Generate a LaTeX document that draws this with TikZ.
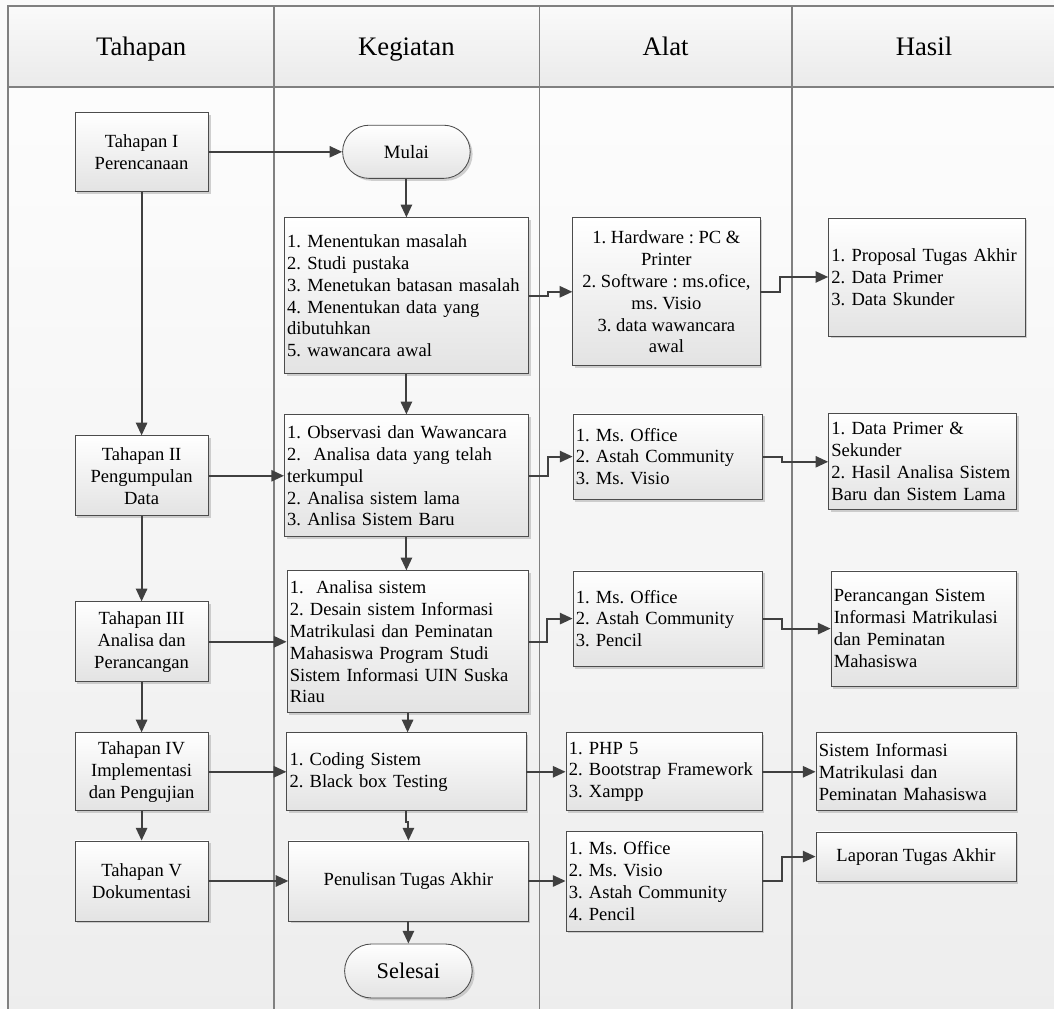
\documentclass[tikz,border=0pt]{standalone}
\usepackage{fontspec}
\setmainfont{Liberation Serif}
\frenchspacing
\usetikzlibrary{arrows.meta, shapes.misc, shadows}

\begin{document}
\begin{tikzpicture} [scale = 1,
  lane/.style = {draw = black!50, line width = 1.1pt},
  head/.style = {anchor = base, font = \fontsize{19}{22}\selectfont},
  box/.style = {draw = black!70, line width = 0.6pt, top color = white, bottom color = black!11,
    drop shadow = {shadow xshift = 0.06cm, shadow yshift = -0.06cm, fill = black!30, opacity = 0.6},
    font = \fontsize{13.2}{15.6}\selectfont, inner xsep = 0.07cm, inner ysep = 0.05cm},
  listbox/.style = {box, align = left},
  textbox/.style = {box, align = center},
  terminal/.style = {box, rounded rectangle, align = center},
  flow/.style = {draw = black!75, line width = 1.3pt, -{Triangle[length = 9pt, width = 8pt]}}]
\useasboundingbox (0, 0) rectangle (26.35, 25.225);
\fill[black!2] (0, 0) rectangle (26.35, 25.225);
\shade[top color = black!1, bottom color = black!7] (0.2, -0.2) rectangle (26.45, 23.05);
\shade[top color = black!2, bottom color = black!8] (0.2, 23.05) rectangle (26.45, 25.075);
\draw[lane] (0.2, -0.2) -- (0.2, 25.075) -- (26.45, 25.075);
\draw[lane] (0.2, 23.05) -- (26.45, 23.05);
\draw[lane] (6.85, -0.2) -- (6.85, 25.075);
\draw[lane] (13.49, -0.2) -- (13.49, 25.075);
\draw[lane] (19.8, -0.2) -- (19.8, 25.075);
\node[head] (htahap) at (3.53, 23.83){Tahapan};
\node[head] (hkegiatan) at (10.16, 23.83){Kegiatan};
\node[head] (halat) at (16.64, 23.83){Alat};
\node[head] (hhasil) at (23.1, 23.83){Hasil};
\node[textbox, minimum width = 3.33cm, minimum height = 1.98cm] (t1) at (3.54, 21.43){Tahapan I\\Perencanaan};
\node[textbox, minimum width = 3.33cm, minimum height = 2.0cm] (t2) at (3.54, 13.33){Tahapan II\\Pengumpulan\\Data};
\node[textbox, minimum width = 3.33cm, minimum height = 2.0cm] (t3) at (3.54, 9.18){Tahapan III\\Analisa dan\\Perancangan};
\node[textbox, minimum width = 3.33cm, minimum height = 1.95cm] (t4) at (3.54, 5.93){Tahapan IV\\Implementasi\\dan Pengujian};
\node[textbox, minimum width = 3.33cm, minimum height = 2.0cm] (t5) at (3.54, 3.2){Tahapan V\\Dokumentasi};
\node[terminal, minimum width = 3.33cm, minimum height = 1.33cm, font = \fontsize{13.4}{16}\selectfont] (mulai) at (10.16, 21.43){Mulai};
\node[listbox, text width = 5.96cm, minimum height = 3.9cm] (k1) at (10.16, 17.83){1. Menentukan masalah\\2. Studi pustaka\\3. Menetukan batasan masalah\\4. Menentukan data yang\\dibutuhkan\\5. wawancara awal};
\node[listbox, text width = 5.96cm, minimum height = 3.05cm] (k2) at (10.16, 13.33){1. Observasi dan Wawancara\\2.~ Analisa data yang telah\\terkumpul\\2. Analisa sistem lama\\3. Anlisa Sistem Baru};
\node[listbox, text width = 5.89cm, minimum height = 3.55cm] (k3) at (10.19, 9.18){1.~ Analisa sistem\\2. Desain sistem Informasi\\Matrikulasi dan Peminatan\\Mahasiswa Program Studi\\Sistem Informasi UIN Suska\\Riau};
\node[listbox, text width = 5.84cm, minimum height = 1.95cm] (k4) at (10.16, 5.93){1. Coding Sistem\\2. Black box Testing};
\node[textbox, minimum width = 5.98cm, minimum height = 2.0cm] (k5) at (10.21, 3.2){Penulisan Tugas Akhir};
\node[terminal, minimum width = 3.33cm, minimum height = 1.35cm, font = \fontsize{15.9}{18}\selectfont] (selesai) at (10.21, 0.95){Selesai};
\node[textbox, minimum width = 4.68cm, minimum height = 3.7cm] (a1) at (16.66, 17.93){1. Hardware : PC \&\\Printer\\2. Software : ms.ofice,\\ms. Visio\\3. data wawancara\\awal};
\node[listbox, text width = 4.59cm, minimum height = 2.13cm] (a2) at (16.69, 13.81){1. Ms. Office\\2. Astah Community\\3. Ms. Visio};
\node[listbox, text width = 4.59cm, minimum height = 2.38cm] (a3) at (16.69, 9.76){1. Ms. Office\\2. Astah Community\\3. Pencil};
\node[listbox, text width = 4.76cm, minimum height = 1.95cm] (a4) at (16.6, 5.93){1. PHP 5\\2. Bootstrap Framework\\3. Xampp};
\node[listbox, text width = 4.76cm, minimum height = 2.48cm] (a5) at (16.6, 3.19){1. Ms. Office\\2. Ms. Visio\\3. Astah Community\\4. Pencil};
\node[listbox, text width = 4.77cm, minimum height = 2.95cm] (h1) at (23.17, 18.3){1. Proposal Tugas Akhir\\2. Data Primer\\3. Data Skunder};
\node[listbox, text width = 4.55cm, minimum height = 2.4cm] (h2) at (23.06, 13.68){1. Data Primer \&\\Sekunder\\2. Hasil Analisa Sistem\\Baru dan Sistem Lama};
\node[listbox, text width = 4.49cm, minimum height = 2.88cm] (h3) at (23.09, 9.51){Perancangan Sistem\\Informasi Matrikulasi\\dan Peminatan\\Mahasiswa};
\node[listbox, text width = 4.86cm, minimum height = 1.95cm] (h4) at (22.9, 5.93){Sistem Informasi\\Matrikulasi dan\\Peminatan Mahasiswa};
\node[textbox, minimum width = 5.0cm, minimum height = 1.23cm] (h5) at (22.9, 3.81){Laporan Tugas Akhir};
\draw[flow] (t1.east) -- (mulai.west);
\draw[flow] (t1.south) -- (t2.north);
\draw[flow] (t2.south) -- (t3.north);
\draw[flow] (t3.south) -- (t4.north);
\draw[flow] (t4.south) -- (t5.north);
\draw[flow] (t2.east) -- (t2.east -| k2.west);
\draw[flow] (t3.east) -- (t3.east -| k3.west);
\draw[flow] (t4.east) -- (t4.east -| k4.west);
\draw[flow] (t5.east) -- (t5.east -| k5.west);
\draw[flow] (mulai.south) -- (k1.north);
\draw[flow] (k1.south) -- (k2.north);
\draw[flow] (k2.south) -- (k2.south |- k3.north);
\draw[flow] (k3.south) -- (k3.south |- k4.north);
\draw[flow] (k4.south) -- ++(0, -0.27) -| (k5.north);
\draw[flow] (k5.south) -- (selesai.north);
\draw[flow] (k1.east) -- ++(0.48, 0) |- (a1.west);
\draw[flow] (k2.east) -- ++(0.48, 0) |- (a2.west);
\draw[flow] (k3.east) -- ++(0.46, 0) |- (a3.west);
\draw[flow] (k4.east) -- (a4.west);
\draw[flow] (k5.east) -- (k5.east -| a5.west);
\draw[flow] (a1.east) -- ++(0.48, 0) |- (h1.west);
\draw[flow] (a2.east) -- ++(0.48, 0) |- (h2.west);
\draw[flow] (a3.east) -- ++(0.48, 0) |- (h3.west);
\draw[flow] (a4.east) -- (h4.west);
\draw[flow] (a5.east) -- ++(0.48, 0) |- (h5.west);
\end{tikzpicture}
\end{document}
